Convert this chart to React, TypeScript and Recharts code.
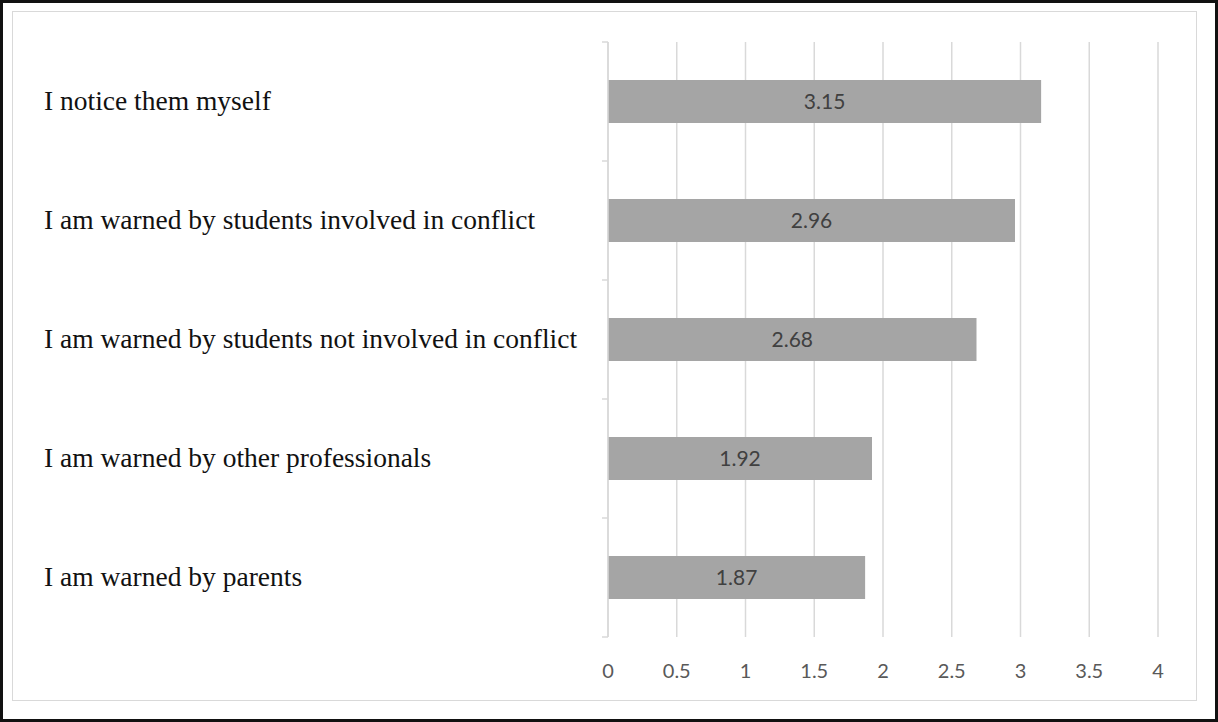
import { BarChart, Bar, XAxis, YAxis, CartesianGrid, LabelList } from 'recharts';

const categories = [
  'I notice them myself',
  'I am warned by students involved in conflict',
  'I am warned by students not involved in conflict',
  'I am warned by other professionals',
  'I am warned by parents',
];
const scores = [3.15, 2.96, 2.68, 1.92, 1.87];
const xTicks = [0, 0.5, 1, 1.5, 2, 2.5, 3, 3.5, 4];

const chartData = categories.map((name, i) => ({ name, score: scores[i] }));

const GRID = '#d9d9d9';

function CategoryTick({ x = 0, y = 0, payload, index = 0, visibleTicksCount = 0 }: any) {
  const half = Number(payload?.offset ?? 0);
  const isLast = index === visibleTicksCount - 1;
  return (
    <g>
      <line x1={x - 6} y1={y - half} x2={x} y2={y - half} stroke={GRID} strokeWidth={1.5} />
      {isLast && <line x1={x - 6} y1={y + half} x2={x} y2={y + half} stroke={GRID} strokeWidth={1.5} />}
      <text
        x={x - 564}
        y={y - 1}
        dominantBaseline="central"
        textAnchor="start"
        fill="#111"
        fontSize={27.5}
        fontFamily="'Liberation Serif', 'Times New Roman', serif"
      >
        {payload?.value}
      </text>
    </g>
  );
}

function ValueTick({ x = 0, y = 0, payload }: any) {
  return (
    <text
      x={x}
      y={y + 33}
      dominantBaseline="central"
      textAnchor="middle"
      fill="#595959"
      fontSize={20}
      fontFamily="Lato, 'Open Sans', sans-serif"
    >
      {payload?.value}
    </text>
  );
}

export default function App() {
  return (
    <div style={{ position: 'absolute', left: 0, top: 0, width: 1218, height: 722, background: '#fff' }}>
      <div
        style={{
          position: 'absolute',
          left: 0,
          top: 0,
          width: 1218,
          height: 722,
          border: '3px solid #111',
          boxSizing: 'border-box',
        }}
      />
      <div
        style={{
          position: 'absolute',
          left: 12,
          top: 11,
          width: 1185,
          height: 690,
          border: `1.5px solid ${GRID}`,
          boxSizing: 'border-box',
        }}
      />
      <div style={{ position: 'absolute', left: 0, top: 0 }}>
        <BarChart
          width={1218}
          height={722}
          data={chartData}
          layout="vertical"
          margin={{ top: 42, right: 60, bottom: 35, left: 43 }}
          barCategoryGap="32%"
        >
          <CartesianGrid horizontal={false} stroke={GRID} strokeWidth={1.5} />
          <XAxis
            type="number"
            domain={[0, 4]}
            ticks={xTicks}
            axisLine={false}
            tickLine={false}
            tickSize={0}
            tickMargin={0}
            height={50}
            tick={<ValueTick />}
            interval={0}
          />
          <YAxis
            type="category"
            dataKey="name"
            width={565}
            axisLine={{ stroke: GRID, strokeWidth: 1.5 }}
            tickLine={false}
            tickSize={0}
            tickMargin={0}
            tick={<CategoryTick />}
            interval={0}
          />
          <Bar dataKey="score" fill="#a5a5a5" isAnimationActive={false}>
            <LabelList
              dataKey="score"
              position="center"
              fill="#404040"
              fontSize={21}
              fontFamily="Lato, 'Open Sans', sans-serif"
              formatter={(v: any) => Number(v).toFixed(2)}
            />
          </Bar>
        </BarChart>
      </div>
    </div>
  );
}
